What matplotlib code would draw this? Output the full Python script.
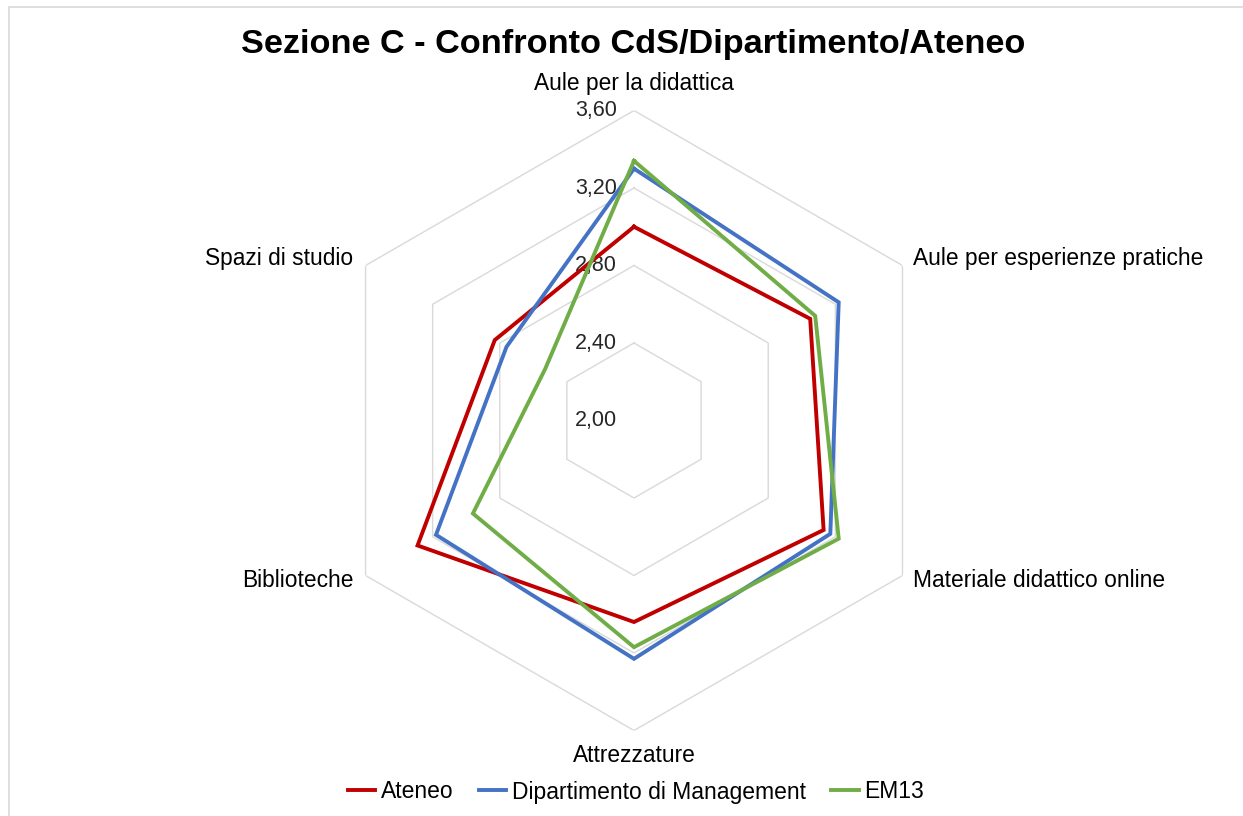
import numpy as np
import matplotlib
matplotlib.use("Agg")
import matplotlib.pyplot as plt
from matplotlib.transforms import offset_copy
from matplotlib.lines import Line2D
from matplotlib.patches import Rectangle

plt.rcParams['font.family'] = ['Liberation Sans', 'DejaVu Sans']

categories = ["Aule per la didattica", "Aule per esperienze pratiche",
              "Materiale didattico online", "Attrezzature",
              "Biblioteche", "Spazi di studio"]
ateneo = [3.00, 3.05, 3.13, 3.04, 3.29, 2.83]
dipartimento = [3.30, 3.22, 3.17, 3.23, 3.18, 2.76]
em13 = [3.34, 3.08, 3.22, 3.17, 2.96, 2.53]
series_names = ["Ateneo", "Dipartimento di Management", "EM13"]
series_colors = ["#C00000", "#4472C4", "#70AD47"]
ticks = [2.00, 2.40, 2.80, 3.20, 3.60]
tick_labels = ["2,00", "2,40", "2,80", "3,20", "3,60"]

W, H = 1243, 816
fig = plt.figure(figsize=(W / 100, H / 100), dpi=100)

# chart area border
fig.patches.append(Rectangle((9 / W, -0.05), 1.2, 1 - 7 / H + 0.05,
                             transform=fig.transFigure, fill=False,
                             edgecolor="#d9d9d9", linewidth=1.2))

cx, cy, R = 634, 420.5, 310
ax = fig.add_axes([(cx - R) / W, 1 - (cy + R) / H, 2 * R / W, 2 * R / H],
                  projection="polar")
ax.set_theta_offset(np.pi / 2)
ax.set_theta_direction(-1)
ax.set_ylim(2.0, 3.6)
ax.axis("off")

n = len(categories)
angles = np.linspace(0, 2 * np.pi, n, endpoint=False)
ang_closed = np.concatenate([angles, angles[:1]])

for t in ticks[1:]:
    ax.plot(ang_closed, [t] * (n + 1), color="#d9d9d9", lw=1.0, zorder=1)

for vals, col in zip([ateneo, dipartimento, em13], series_colors):
    v = list(vals) + [vals[0]]
    ax.plot(ang_closed, v, color=col, lw=2.8, zorder=3,
            solid_joinstyle="miter")

tr = offset_copy(ax.transData, fig=fig, x=-17, y=0, units="dots")
for t, lab in zip(ticks, tick_labels):
    ax.text(0, t, lab, transform=tr, ha="right", va="center",
            fontsize=15.5, color="#262626", zorder=2)

# category labels
offsets = [(0, 27, "center", "center"), (11, 7, "left", "center"),
           (11, -5, "left", "center"), (0, -25, "center", "center"),
           (-12, -5, "right", "center"), (-12, 7, "right", "center")]
for a, lab, (dx, dy, ha, va) in zip(angles, categories, offsets):
    trc = offset_copy(ax.transData, fig=fig, x=dx, y=dy, units="dots")
    ax.text(a, 3.6, lab, transform=trc, ha=ha, va=va, fontsize=16.4,
            color="#000000")

fig.text(633.5 / W, 1 - 44 / H, "Sezione C - Confronto CdS/Dipartimento/Ateneo",
         ha="center", va="center", fontsize=24.7, fontweight="bold")

handles = [Line2D([], [], color=c, lw=2.8) for c in series_colors]
fig.legend(handles, series_names, loc="center", bbox_to_anchor=(636 / W, 1 - 792 / H),
           ncol=3, frameon=False, fontsize=16.5, handlelength=1.2,
           handletextpad=0.25, columnspacing=1.1)

fig.savefig("out.png", dpi=100)
